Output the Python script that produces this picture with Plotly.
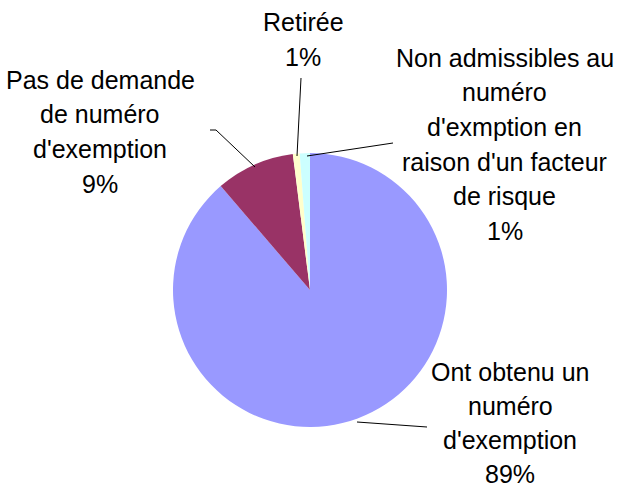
import plotly.graph_objects as go

# ---- data ----
categories = [
    "Ont obtenu un\nnuméro\nd'exemption",
    "Pas de demande\nde numéro\nd'exemption",
    "Retirée",
    "Non admissibles au\nnuméro\nd'exmption en\nraison d'un facteur\nde risque",
]
values = [88.7, 9.3, 0.8, 1.2]
colors = ["#9999FF", "#993366", "#FFFFCC", "#CCFFFF"]

W, H = 621, 492

def px(x, y):
    return x / W, 1 - y / H

# pie placement (pixels): center and radius
cx, cy, r = 310, 290, 137
x0, y0 = px(cx - r, cy + r)
x1, y1 = px(cx + r, cy - r)

fig = go.Figure(go.Pie(
    labels=[c.replace("\n", " ") for c in categories],
    values=values,
    marker=dict(colors=colors, line=dict(width=0)),
    sort=False,
    direction="clockwise",
    rotation=0,
    textinfo="none",
    hoverinfo="label+percent",
    domain=dict(x=[x0, x1], y=[y0, y1]),
    showlegend=False,
))

# label placement (pixels): center x, first line y, line step
label_pos = [(510, 372, 34), (100, 80, 34.5), (303, 22, 34.5), (505, 58, 34.5)]
total = sum(values)
annotations = []
for cat, v, (lx, ly, step) in zip(categories, values, label_pos):
    lines = cat.split("\n") + [f"{round(100 * v / total)}%"]
    for i, t in enumerate(lines):
        ax, ay = px(lx, ly + i * step)
        annotations.append(dict(
            x=ax, y=ay, xref="paper", yref="paper", text=t, showarrow=False,
            xanchor="center", yanchor="middle", borderpad=0,
            font=dict(family="Liberation Sans, Arial, sans-serif", size=25, color="#000000"),
        ))

# leader lines (pixels)
leaders = [
    [(357, 422), (427, 427)],
    [(210, 130), (216, 130), (255, 167)],
    [(301, 78), (297, 156)],
    [(393, 143), (307, 156)],
]
shapes = []
for pts in leaders:
    path = ""
    for j, (a, b) in enumerate(pts):
        u, w = px(a, b)
        path += ("M" if j == 0 else "L") + f" {u} {w} "
    shapes.append(dict(type="path", xref="paper", yref="paper", path=path,
                       line=dict(color="#000000", width=1)))

fig.update_layout(
    width=W, height=H, autosize=False,
    margin=dict(l=0, r=0, t=0, b=0),
    paper_bgcolor="white", plot_bgcolor="white",
    annotations=annotations, shapes=shapes,
)

fig.write_html("out.html", post_script="document.body.style.margin='0';",
               config={"displayModeBar": False})
